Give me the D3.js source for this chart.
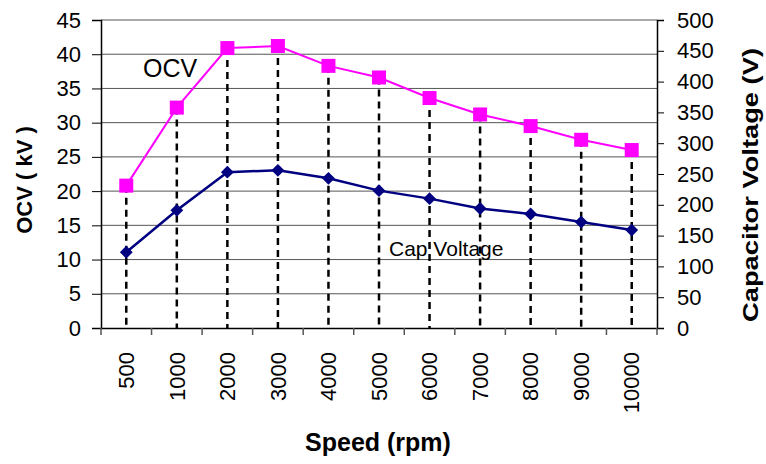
<!DOCTYPE html>
<html>
<head>
<meta charset="utf-8">
<script src="https://cdn.jsdelivr.net/npm/d3@7"></script>
<style>
  body { margin: 0; background: #fff; }
  svg { font-family: "Liberation Sans", Arial, sans-serif; }
</style>
</head>
<body>
<div id="chart"></div>
<script>
// chart data
const speeds = ['500', '1000', '2000', '3000', '4000', '5000', '6000', '7000', '8000', '9000', '10000'];
const ocv = [20.8, 32.2, 40.9, 41.2, 38.3, 36.6, 33.6, 31.2, 29.5, 27.5, 26.0];   // kV, left axis
const capVoltage = [123, 191, 253, 256, 243, 223, 210, 194, 185, 172, 159];      // V, right axis
const leftTicks = d3.range(0, 46, 5);
const rightTicks = d3.range(0, 501, 50);

const width = 766, height = 464;
const margin = { top: 20, right: 109, bottom: 136, left: 101 };

const svg = d3.select('#chart').append('svg')
    .attr('width', width)
    .attr('height', height);

const x = d3.scaleBand().domain(speeds).range([margin.left, width - margin.right]);
const yL = d3.scaleLinear().domain([0, 45]).range([height - margin.bottom, margin.top]);
const yR = d3.scaleLinear().domain([0, 500]).range([height - margin.bottom, margin.top]);
const cx = d => x(d) + x.bandwidth() / 2;

// gridlines
svg.append('g')
    .selectAll('line')
    .data(leftTicks.slice(1))
    .enter().append('line')
    .attr('x1', margin.left).attr('x2', width - margin.right)
    .attr('y1', d => yL(d)).attr('y2', d => yL(d))
    .attr('stroke', '#555')
    .attr('stroke-width', 1);

// drop lines from OCV points
svg.append('g')
    .selectAll('line')
    .data(speeds)
    .enter().append('line')
    .attr('x1', d => cx(d)).attr('x2', d => cx(d))
    .attr('y1', (d, i) => yL(ocv[i]))
    .attr('y2', yL(0))
    .attr('stroke', '#000')
    .attr('stroke-width', 2.5)
    .attr('stroke-dasharray', '7,5');

// axes
const leftAxis = svg.append('g')
    .attr('transform', `translate(${margin.left},0)`)
    .call(d3.axisLeft(yL).tickValues(leftTicks).tickSize(9).tickPadding(11));
const rightAxis = svg.append('g')
    .attr('transform', `translate(${width - margin.right},0)`)
    .call(d3.axisRight(yR).tickValues(rightTicks).tickSize(7).tickPadding(13));
const bottomAxis = svg.append('g')
    .attr('transform', `translate(0,${height - margin.bottom})`)
    .call(d3.axisBottom(x).tickSize(0).tickSizeOuter(0));

[leftAxis, rightAxis].forEach(a => {
    a.select('.domain').attr('stroke', '#000').attr('stroke-width', 1.5);
    a.selectAll('.tick line').attr('stroke', '#000').attr('stroke-width', 1);
    a.selectAll('.tick text').attr('font-size', 22).attr('fill', '#000');
});

bottomAxis.select('.domain').attr('stroke', '#000').attr('stroke-width', 1.5);
bottomAxis.selectAll('.tick text')
    .attr('font-size', 22)
    .attr('fill', '#000')
    .attr('text-anchor', 'end')
    .attr('dy', '0.35em')
    .attr('transform', 'translate(0,24) rotate(-90)')
    .attr('x', 0).attr('y', 0);

// category boundary ticks
bottomAxis.append('g')
    .selectAll('line')
    .data(d3.range(speeds.length + 1))
    .enter().append('line')
    .attr('x1', i => margin.left + i * x.step())
    .attr('x2', i => margin.left + i * x.step())
    .attr('y1', 0).attr('y2', 7)
    .attr('stroke', '#555')
    .attr('stroke-width', 1.5);

// lines
const ocvLine = d3.line().x((d, i) => cx(speeds[i])).y(d => yL(d));
const capLine = d3.line().x((d, i) => cx(speeds[i])).y(d => yR(d));

svg.append('path')
    .datum(ocv)
    .attr('d', ocvLine)
    .attr('fill', 'none')
    .attr('stroke', '#ff00ff')
    .attr('stroke-width', 2);

svg.append('path')
    .datum(capVoltage)
    .attr('d', capLine)
    .attr('fill', 'none')
    .attr('stroke', '#000080')
    .attr('stroke-width', 2.5);

// markers
svg.append('g')
    .selectAll('rect')
    .data(ocv)
    .enter().append('rect')
    .attr('x', (d, i) => cx(speeds[i]) - 7)
    .attr('y', d => yL(d) - 7)
    .attr('width', 14).attr('height', 14)
    .attr('fill', '#ff00ff');

svg.append('g')
    .selectAll('path')
    .data(capVoltage)
    .enter().append('path')
    .attr('d', d3.symbol().type(d3.symbolDiamond2).size(105))
    .attr('transform', (d, i) => `translate(${cx(speeds[i])},${yR(d)})`)
    .attr('fill', '#000080');

// series labels
svg.append('text')
    .attr('x', 143).attr('y', 77)
    .attr('font-size', 25)
    .text('OCV');

svg.append('text')
    .attr('x', 389).attr('y', 256)
    .attr('font-size', 21)
    .text('Cap Voltage');

// axis titles
svg.append('text')
    .attr('transform', 'translate(32,180) rotate(-90)')
    .attr('text-anchor', 'middle')
    .attr('font-size', 22)
    .attr('font-weight', 'bold')
    .text('OCV ( kV )');

svg.append('text')
    .attr('transform', 'translate(758,185) rotate(-90)')
    .attr('text-anchor', 'middle')
    .attr('font-size', 22)
    .attr('font-weight', 'bold')
    .attr('textLength', 274)
    .attr('lengthAdjust', 'spacingAndGlyphs')
    .text('Capacitor Voltage (V)');

svg.append('text')
    .attr('x', 378).attr('y', 451)
    .attr('text-anchor', 'middle')
    .attr('font-size', 25)
    .attr('font-weight', 'bold')
    .text('Speed (rpm)');
</script>
</body>
</html>
